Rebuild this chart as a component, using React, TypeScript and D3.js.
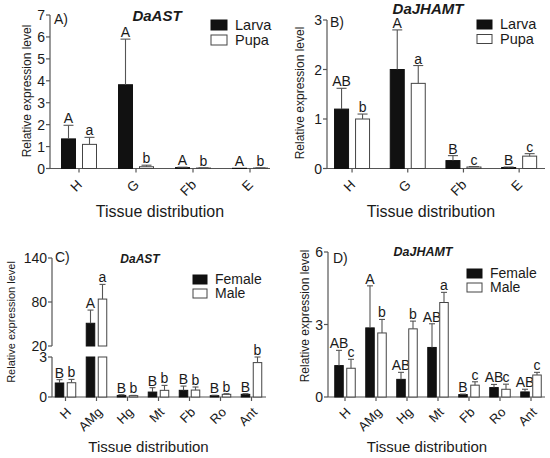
import React from "react";
import * as d3 from "d3";

// ---------- DATA ----------
const larvalTissues = ["H", "G", "Fb", "E"];
const adultTissues = ["H", "AMg", "Hg", "Mt", "Fb", "Ro", "Ant"];

// Panel A: DaAST, larva vs pupa
const A_larva = [1.35, 3.82, 0.04, 0.01];
const A_larvaSD = [0.62, 2.08, 0.02, 0.0];
const A_larvaLetters = ["A", "A", "A", "A"];
const A_pupa = [1.1, 0.08, 0.02, 0.02];
const A_pupaSD = [0.32, 0.07, 0.01, 0.01];
const A_pupaLetters = ["a", "b", "b", "b"];
const A_ticks = [0, 1, 2, 3, 4, 5, 6, 7];

// Panel B: DaJHAMT, larva vs pupa
const B_larva = [1.2, 2.0, 0.16, 0.02];
const B_larvaSD = [0.42, 0.8, 0.1, 0.01];
const B_larvaLetters = ["AB", "A", "B", "B"];
const B_pupa = [1.0, 1.72, 0.03, 0.25];
const B_pupaSD = [0.1, 0.36, 0.01, 0.05];
const B_pupaLetters = ["b", "a", "c", "c"];
const B_ticks = [0, 1, 2, 3];

// Panel C: DaAST, female vs male (broken axis)
const C_female = [1.05, 51, 0.12, 0.37, 0.5, 0.1, 0.2];
const C_femaleSD = [0.25, 18, 0.05, 0.33, 0.32, 0.03, 0.05];
const C_femaleLetters = ["B", "A", "B", "B", "B", "B", "B"];
const C_male = [1.07, 84, 0.1, 0.5, 0.52, 0.2, 2.58];
const C_maleSD = [0.25, 20, 0.02, 0.37, 0.23, 0.05, 0.42];
const C_maleLetters = ["b", "a", "b", "b", "b", "b", "b"];
const C_ticksLow = [0, 3];
const C_ticksHigh = [20, 80, 140];

// Panel D: DaJHAMT, female vs male
const D_female = [1.3, 2.86, 0.73, 2.05, 0.1, 0.39, 0.21];
const D_femaleSD = [0.63, 1.74, 0.29, 0.98, 0.02, 0.13, 0.11];
const D_femaleLetters = ["AB", "A", "AB", "AB", "B", "AB", "AB"];
const D_male = [1.19, 2.65, 2.82, 3.91, 0.49, 0.32, 0.91];
const D_maleSD = [0.37, 0.56, 0.32, 0.42, 0.14, 0.21, 0.11];
const D_maleLetters = ["c", "b", "b", "a", "c", "c", "c"];
const D_ticks = [0, 3, 6];

// ---------- STYLE ----------
const FONT = "'Liberation Sans', Arial, Helvetica, sans-serif";
const AXIS = "#555";
const INK = "#1a1a1a";
const DARK = "#111";

type Seg = { domain: [number, number]; range: [number, number]; ticks: number[] };
type Series = { name: string; values: number[]; sd: number[]; letters: string[]; fill: string };
type Spec = {
  categories: string[];
  series: Series[];
  segs: Seg[];
  axisX: number;
  axisEnd: number;
  bandStart: number;
  step: number;
  barW: number;
  gap: number;
  cap: number;
  title: string;
  titleX: number;
  titleY: number;
  titleSize: number;
  tag: string;
  tagX: number;
  tagY: number;
  legX: number;
  legY: number;
  legW: number;
  legH: number;
  legStep: number;
  legSize: number;
  ylabX: number;
  ylabY: number;
  ylabSize: number;
  xlabX: number;
  xlabY: number;
  xlabSize: number;
  tickSize: number;
  catSize: number;
  catDx: number;
  catDy: number;
  letterSize: number;
};

function Panel({ s }: { s: Spec }) {
  const x = d3
    .scaleBand<string>()
    .domain(s.categories)
    .range([s.bandStart, s.bandStart + s.step * s.categories.length])
    .padding(0);
  const scales = s.segs.map((g) => d3.scaleLinear().domain(g.domain).range(g.range));
  const y0 = s.segs[0].range[0];
  const yOf = (v: number) => {
    for (let i = 0; i < s.segs.length; i++) {
      if (v <= s.segs[i].domain[1] || i === s.segs.length - 1) return scales[i](v);
    }
    return scales[0](v);
  };
  const center = (c: string) => (x(c) as number) + x.bandwidth() / 2;
  const barLeft = (c: string, k: number) =>
    k === 0 ? center(c) - s.gap / 2 - s.barW : center(c) + s.gap / 2;

  return (
    <g fontFamily={FONT}>
      {/* y axis segments */}
      {s.segs.map((g, i) => (
        <g key={"seg" + i}>
          <line x1={s.axisX} x2={s.axisX} y1={g.range[0]} y2={g.range[1]} stroke={AXIS} strokeWidth={1.2} />
          {g.ticks.map((t) => (
            <g key={t}>
              <line x1={s.axisX - 4} x2={s.axisX} y1={scales[i](t)} y2={scales[i](t)} stroke={AXIS} strokeWidth={1.2} />
              <text x={s.axisX - 5} y={scales[i](t)} dy="0.36em" textAnchor="end" fontSize={s.tickSize} fill={INK}>
                {t}
              </text>
            </g>
          ))}
        </g>
      ))}
      {/* x axis */}
      <line x1={s.axisX} x2={s.axisEnd} y1={y0} y2={y0} stroke={AXIS} strokeWidth={1.2} />
      {s.categories.map((c) => {
        const ax = center(c) + s.catDx;
        const ay = y0 + s.catDy;
        return (
          <g key={c}>
            <line x1={center(c)} x2={center(c)} y1={y0} y2={y0 + 4} stroke={AXIS} strokeWidth={1.2} />
            <text
              x={ax}
              y={ay}
              transform={`rotate(-45 ${ax} ${ay})`}
              textAnchor="end"
              fontSize={s.catSize}
              fill={INK}
            >
              {c}
            </text>
          </g>
        );
      })}
      {/* bars */}
      {s.series.map((ser, k) =>
        s.categories.map((c, i) => {
          const v = ser.values[i];
          const top = v + ser.sd[i];
          const bx = barLeft(c, k);
          const rects = s.segs.map((g, j) => {
            const lo = g.domain[0];
            const hi = g.domain[1];
            if (v <= lo && j > 0) return null;
            const yA = scales[j](lo);
            const yB = scales[j](Math.min(v, hi));
            return (
              <rect
                key={"r" + j}
                x={bx}
                y={Math.min(yA, yB)}
                width={s.barW}
                height={Math.max(Math.abs(yA - yB), 0.01)}
                fill={ser.fill}
                stroke={ser.fill === "#fff" ? "#444" : DARK}
                strokeWidth={1}
              />
            );
          });
          const cx = bx + s.barW / 2;
          const yv = yOf(v);
          const yt = yOf(top);
          return (
            <g key={ser.name + c}>
              {rects}
              {ser.sd[i] > 0 && (
                <g stroke={AXIS} strokeWidth={1.1}>
                  <line x1={cx} x2={cx} y1={yv} y2={yt} />
                  <line x1={cx - s.cap / 2} x2={cx + s.cap / 2} y1={yt} y2={yt} />
                </g>
              )}
              <text x={cx} y={Math.min(yt, yv) - 2} textAnchor="middle" fontSize={s.letterSize} fill={INK}>
                {ser.letters[i]}
              </text>
            </g>
          );
        })
      )}
      {/* title */}
      <text
        x={s.titleX}
        y={s.titleY}
        textAnchor="middle"
        fontSize={s.titleSize}
        fontWeight="bold"
        fontStyle="italic"
        fill={INK}
      >
        {s.title}
      </text>
      <text x={s.tagX} y={s.tagY} fontSize={14} fill={INK}>
        {s.tag}
      </text>
      {/* legend */}
      {s.series.map((ser, k) => (
        <g key={"leg" + k}>
          <rect
            x={s.legX}
            y={s.legY + k * s.legStep}
            width={s.legW}
            height={s.legH}
            fill={ser.fill}
            stroke={ser.fill === "#fff" ? "#444" : DARK}
            strokeWidth={1}
          />
          <text x={s.legX + s.legW + 8} y={s.legY + k * s.legStep + s.legH} fontSize={s.legSize} fill={INK}>
            {ser.name}
          </text>
        </g>
      ))}
      {/* axis titles */}
      <text
        transform={`translate(${s.ylabX},${s.ylabY}) rotate(-90)`}
        textAnchor="middle"
        fontSize={s.ylabSize}
        fill={INK}
      >
        Relative expression level
      </text>
      <text x={s.xlabX} y={s.xlabY} textAnchor="middle" fontSize={s.xlabSize} fill={INK}>
        Tissue distribution
      </text>
    </g>
  );
}

const specA: Spec = {
  categories: larvalTissues,
  series: [
    { name: "Larva", values: A_larva, sd: A_larvaSD, letters: A_larvaLetters, fill: "#111" },
    { name: "Pupa", values: A_pupa, sd: A_pupaSD, letters: A_pupaLetters, fill: "#fff" },
  ],
  segs: [{ domain: [0, 7], range: [168.5, 15], ticks: A_ticks }],
  axisX: 50,
  axisEnd: 270,
  bandStart: 50.5,
  step: 57,
  barW: 14,
  gap: 7,
  cap: 10,
  title: "DaAST",
  titleX: 157,
  titleY: 21,
  titleSize: 15,
  tag: "A)",
  tagX: 54,
  tagY: 24,
  legX: 211,
  legY: 20,
  legW: 16,
  legH: 10,
  legStep: 15,
  legSize: 14.5,
  ylabX: 31,
  ylabY: 91,
  ylabSize: 12,
  xlabX: 160,
  xlabY: 217,
  xlabSize: 16,
  tickSize: 14,
  catSize: 13.5,
  catDx: 4,
  catDy: 17,
  letterSize: 14,
};

const specB: Spec = {
  categories: larvalTissues,
  series: [
    { name: "Larva", values: B_larva, sd: B_larvaSD, letters: B_larvaLetters, fill: "#111" },
    { name: "Pupa", values: B_pupa, sd: B_pupaSD, letters: B_pupaLetters, fill: "#fff" },
  ],
  segs: [{ domain: [0, 3], range: [168.5, 20], ticks: B_ticks }],
  axisX: 327,
  axisEnd: 545,
  bandStart: 324.2,
  step: 55.7,
  barW: 14,
  gap: 7,
  cap: 10,
  title: "DaJHAMT",
  titleX: 428,
  titleY: 14,
  titleSize: 15,
  tag: "B)",
  tagX: 330,
  tagY: 27,
  legX: 477,
  legY: 20,
  legW: 15,
  legH: 9,
  legStep: 14.5,
  legSize: 14.5,
  ylabX: 304,
  ylabY: 93,
  ylabSize: 12,
  xlabX: 431,
  xlabY: 217,
  xlabSize: 16,
  tickSize: 14,
  catSize: 13.5,
  catDx: 4,
  catDy: 17,
  letterSize: 14,
};

const specC: Spec = {
  categories: adultTissues,
  series: [
    { name: "Female", values: C_female, sd: C_femaleSD, letters: C_femaleLetters, fill: "#111" },
    { name: "Male", values: C_male, sd: C_maleSD, letters: C_maleLetters, fill: "#fff" },
  ],
  segs: [
    { domain: [0, 3], range: [397, 357], ticks: C_ticksLow },
    { domain: [20, 140], range: [346, 258], ticks: C_ticksHigh },
  ],
  axisX: 52,
  axisEnd: 266,
  bandStart: 50,
  step: 31,
  barW: 8.5,
  gap: 3.5,
  cap: 6,
  title: "DaAST",
  titleX: 140,
  titleY: 263,
  titleSize: 12,
  tag: "C)",
  tagX: 55,
  tagY: 262,
  legX: 193,
  legY: 275,
  legW: 14,
  legH: 9,
  legStep: 14,
  legSize: 14,
  ylabX: 15,
  ylabY: 322,
  ylabSize: 11,
  xlabX: 148.5,
  xlabY: 452,
  xlabSize: 15,
  tickSize: 14,
  catSize: 13,
  catDx: 6.5,
  catDy: 16,
  letterSize: 14,
};

const specD: Spec = {
  categories: adultTissues,
  series: [
    { name: "Female", values: D_female, sd: D_femaleSD, letters: D_femaleLetters, fill: "#111" },
    { name: "Male", values: D_male, sd: D_maleSD, letters: D_maleLetters, fill: "#fff" },
  ],
  segs: [{ domain: [0, 6], range: [397, 252], ticks: D_ticks }],
  axisX: 328,
  axisEnd: 545,
  bandStart: 329.5,
  step: 31,
  barW: 8.5,
  gap: 3.5,
  cap: 6,
  title: "DaJHAMT",
  titleX: 423,
  titleY: 256,
  titleSize: 12.5,
  tag: "D)",
  tagX: 333,
  tagY: 263,
  legX: 467,
  legY: 269,
  legW: 15,
  legH: 9,
  legStep: 14,
  legSize: 14,
  ylabX: 309,
  ylabY: 316,
  ylabSize: 12,
  xlabX: 427,
  xlabY: 452,
  xlabSize: 15,
  tickSize: 14,
  catSize: 13,
  catDx: 6.5,
  catDy: 16,
  letterSize: 14,
};

export default function App() {
  return (
    <svg
      width={550}
      height={458}
      viewBox="0 0 550 458"
      style={{ position: "absolute", left: 0, top: 0, background: "#fff" }}
    >
      <rect width={550} height={458} fill="#fff" />
      <Panel s={specA} />
      <Panel s={specB} />
      <Panel s={specC} />
      <Panel s={specD} />
    </svg>
  );
}
